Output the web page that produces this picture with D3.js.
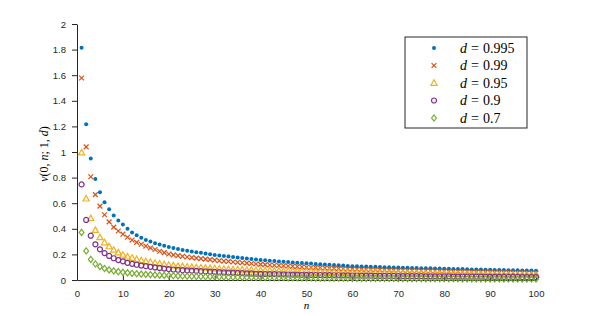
<!DOCTYPE html>
<html>
<head>
<meta charset="utf-8">
<script src="https://cdnjs.cloudflare.com/ajax/libs/d3/7.8.5/d3.min.js"></script>
<style>
  body { margin: 0; background: #fff; }
  .axis text { font-family: "Liberation Sans", Arial, sans-serif; font-size: 9.5px; fill: #262626; }
  .axis path, .axis line { stroke: #262626; }
  .lbl { font-family: "Liberation Serif", "DejaVu Serif", serif; fill: #000; }
</style>
</head>
<body>
<div id="vis"></div>
<script>
// values, n = 1..100
var d995 = [1.815,1.216,0.950,0.790,0.685,0.607,0.553,0.503,0.465,0.433,
  0.400,0.372,0.350,0.330,0.312,0.300,0.288,0.277,0.267,0.258,
  0.250,0.242,0.235,0.229,0.223,0.217,0.212,0.207,0.201,0.195,
  0.191,0.187,0.183,0.179,0.175,0.171,0.168,0.164,0.160,0.157,
  0.154,0.151,0.148,0.145,0.142,0.140,0.137,0.135,0.132,0.130,
  0.128,0.125,0.123,0.121,0.119,0.117,0.115,0.113,0.110,0.108,
  0.107,0.106,0.105,0.104,0.103,0.101,0.100,0.099,0.098,0.097,
  0.096,0.095,0.094,0.093,0.092,0.091,0.091,0.090,0.089,0.088,
  0.087,0.086,0.086,0.085,0.084,0.083,0.083,0.082,0.081,0.080,
  0.079,0.079,0.078,0.077,0.077,0.076,0.075,0.075,0.074,0.073];
var d99 = [1.578,1.040,0.807,0.667,0.577,0.510,0.454,0.413,0.383,0.358,
  0.334,0.312,0.294,0.279,0.265,0.251,0.238,0.225,0.214,0.203,
  0.196,0.190,0.185,0.180,0.175,0.171,0.167,0.163,0.159,0.155,
  0.151,0.148,0.145,0.141,0.138,0.135,0.132,0.129,0.125,0.122,
  0.120,0.117,0.115,0.113,0.111,0.109,0.107,0.105,0.102,0.100,
  0.098,0.097,0.095,0.094,0.092,0.091,0.089,0.088,0.086,0.085,
  0.084,0.083,0.082,0.081,0.080,0.079,0.078,0.077,0.076,0.075,
  0.074,0.074,0.073,0.072,0.072,0.071,0.070,0.070,0.069,0.068,
  0.067,0.066,0.066,0.065,0.064,0.063,0.062,0.062,0.061,0.060,
  0.059,0.059,0.058,0.058,0.057,0.056,0.056,0.055,0.055,0.054];
var d95 = [0.995,0.635,0.482,0.390,0.333,0.293,0.262,0.235,0.214,0.196,
  0.182,0.172,0.162,0.153,0.145,0.139,0.133,0.127,0.122,0.117,
  0.113,0.109,0.106,0.103,0.101,0.098,0.096,0.094,0.092,0.090,
  0.088,0.086,0.085,0.083,0.082,0.080,0.079,0.078,0.076,0.075,
  0.074,0.073,0.072,0.071,0.070,0.069,0.069,0.068,0.067,0.066,
  0.065,0.064,0.063,0.063,0.062,0.061,0.060,0.060,0.059,0.058,
  0.057,0.057,0.056,0.056,0.055,0.054,0.054,0.053,0.053,0.052,
  0.051,0.051,0.050,0.050,0.049,0.049,0.048,0.048,0.047,0.047,
  0.046,0.046,0.045,0.045,0.045,0.044,0.044,0.043,0.043,0.043,
  0.042,0.042,0.041,0.041,0.041,0.040,0.040,0.040,0.039,0.039];
var d9 = [0.747,0.469,0.346,0.279,0.240,0.210,0.188,0.170,0.156,0.146,
  0.134,0.126,0.119,0.113,0.108,0.103,0.098,0.094,0.089,0.085,
  0.082,0.080,0.077,0.075,0.073,0.071,0.069,0.067,0.065,0.063,
  0.061,0.060,0.058,0.057,0.055,0.054,0.052,0.051,0.049,0.048,
  0.047,0.046,0.046,0.045,0.044,0.043,0.042,0.042,0.041,0.040,
  0.040,0.039,0.039,0.038,0.038,0.037,0.037,0.036,0.036,0.035,
  0.035,0.034,0.034,0.034,0.033,0.033,0.032,0.032,0.032,0.031,
  0.031,0.031,0.030,0.030,0.030,0.029,0.029,0.029,0.028,0.028,
  0.028,0.027,0.027,0.027,0.026,0.026,0.026,0.026,0.025,0.025,
  0.025,0.025,0.024,0.024,0.024,0.024,0.023,0.023,0.023,0.023];
var d7 = [0.372,0.227,0.161,0.125,0.105,0.090,0.079,0.071,0.065,0.060,
  0.056,0.052,0.049,0.046,0.044,0.042,0.040,0.038,0.036,0.035,
  0.033,0.032,0.031,0.030,0.029,0.028,0.027,0.026,0.026,0.025,
  0.024,0.024,0.023,0.022,0.022,0.021,0.021,0.020,0.020,0.019,
  0.019,0.019,0.018,0.018,0.018,0.017,0.017,0.017,0.016,0.016,
  0.016,0.015,0.015,0.015,0.015,0.014,0.014,0.014,0.014,0.013,
  0.013,0.013,0.013,0.013,0.012,0.012,0.012,0.012,0.012,0.011,
  0.011,0.011,0.011,0.011,0.011,0.010,0.010,0.010,0.010,0.010,
  0.010,0.010,0.010,0.009,0.009,0.009,0.009,0.009,0.009,0.009,
  0.009,0.009,0.008,0.008,0.008,0.008,0.008,0.008,0.008,0.008];

var seriesNames = ['0.995', '0.99', '0.95', '0.9', '0.7'];
var seriesValues = [d995, d99, d95, d9, d7];
var colors = ['#0072BD', '#D95319', '#EDB120', '#7E2F8E', '#77AC30'];
var symbols = ['dot', 'x', 'triangle', 'circle', 'diamond'];
var xTicks = [0, 10, 20, 30, 40, 50, 60, 70, 80, 90, 100];
var yTicks = [0, 0.2, 0.4, 0.6, 0.8, 1, 1.2, 1.4, 1.6, 1.8, 2];

var width = 591, height = 316;
var margin = { top: 24, right: 55, bottom: 36, left: 77 };
var drawWidth = width - margin.left - margin.right;
var drawHeight = height - margin.top - margin.bottom;

var svg = d3.select('#vis').append('svg')
  .attr('width', width)
  .attr('height', height);

var g = svg.append('g')
  .attr('transform', 'translate(' + margin.left + ',' + margin.top + ')');

var xScale = d3.scaleLinear().domain([0, 100]).range([0, drawWidth]);
var yScale = d3.scaleLinear().domain([0, 2]).range([drawHeight, 0]);

var xAxis = d3.axisBottom(xScale).tickValues(xTicks)
  .tickSizeInner(-4.5).tickSizeOuter(0).tickPadding(10);
var yAxis = d3.axisLeft(yScale).tickValues(yTicks)
  .tickSizeInner(5).tickSizeOuter(0).tickPadding(6)
  .tickFormat(function(d) { return d3.format('~g')(d); });

g.append('g').attr('class', 'axis')
  .attr('transform', 'translate(0,' + drawHeight + ')')
  .call(xAxis);
g.append('g').attr('class', 'axis').call(yAxis);

// marker drawing
function drawMarker(sel, type, color) {
  if (type == 'dot') {
    sel.append('circle').attr('r', 2).attr('fill', color);
  } else if (type == 'x') {
    sel.append('path').attr('d', 'M-2.4,-2.4L2.4,2.4M-2.4,2.4L2.4,-2.4')
      .attr('stroke', color).attr('stroke-width', 1.2).attr('fill', 'none');
  } else if (type == 'triangle') {
    sel.append('path').attr('d', 'M0,-3.2L3.1,2.3L-3.1,2.3Z')
      .attr('stroke', color).attr('stroke-width', 1.2).attr('fill', 'none');
  } else if (type == 'circle') {
    sel.append('circle').attr('r', 2.5)
      .attr('stroke', color).attr('stroke-width', 1.2).attr('fill', 'none');
  } else {
    sel.append('path').attr('d', 'M0,-3.1L2.4,0L0,3.1L-2.4,0Z')
      .attr('stroke', color).attr('stroke-width', 1.2).attr('fill', 'none');
  }
}

seriesValues.forEach(function(vals, i) {
  var pts = g.append('g').selectAll('g')
    .data(vals)
    .enter().append('g')
    .attr('transform', function(d, j) {
      return 'translate(' + xScale(j + 1) + ',' + yScale(d) + ')';
    });
  drawMarker(pts, symbols[i], colors[i]);
});

// axis labels
svg.append('text')
  .attr('class', 'lbl')
  .attr('x', margin.left + drawWidth / 2)
  .attr('y', 309)
  .attr('text-anchor', 'middle')
  .style('font-style', 'italic')
  .style('font-size', '11px')
  .text('n');

var yl = svg.append('text')
  .attr('class', 'lbl')
  .attr('transform', 'translate(48,' + (margin.top + drawHeight / 2 + 2) + ') rotate(-90)')
  .attr('text-anchor', 'middle')
  .style('font-size', '12px');
yl.append('tspan').style('font-style', 'italic').text('v');
yl.append('tspan').text('(0, ');
yl.append('tspan').style('font-style', 'italic').text('n');
yl.append('tspan').text('; 1, ');
yl.append('tspan').style('font-style', 'italic').text('d');
yl.append('tspan').text(')');

// legend
var legend = svg.append('g').attr('transform', 'translate(405,37)');
legend.append('rect')
  .attr('width', 122).attr('height', 91)
  .attr('fill', '#fff').attr('stroke', '#262626').attr('stroke-width', 1);

seriesNames.forEach(function(name, i) {
  var row = legend.append('g').attr('transform', 'translate(0,' + (11 + i * 17.5) + ')');
  drawMarker(row.append('g').attr('transform', 'translate(29,0)'), symbols[i], colors[i]);
  var t = row.append('text').attr('class', 'lbl')
    .attr('x', 55).attr('y', 4.5)
    .style('font-size', '14px');
  t.append('tspan').style('font-style', 'italic').text('d');
  t.append('tspan').attr('dx', 4).text('=');
  t.append('tspan').attr('dx', 4).text(name);
});
</script>
</body>
</html>
